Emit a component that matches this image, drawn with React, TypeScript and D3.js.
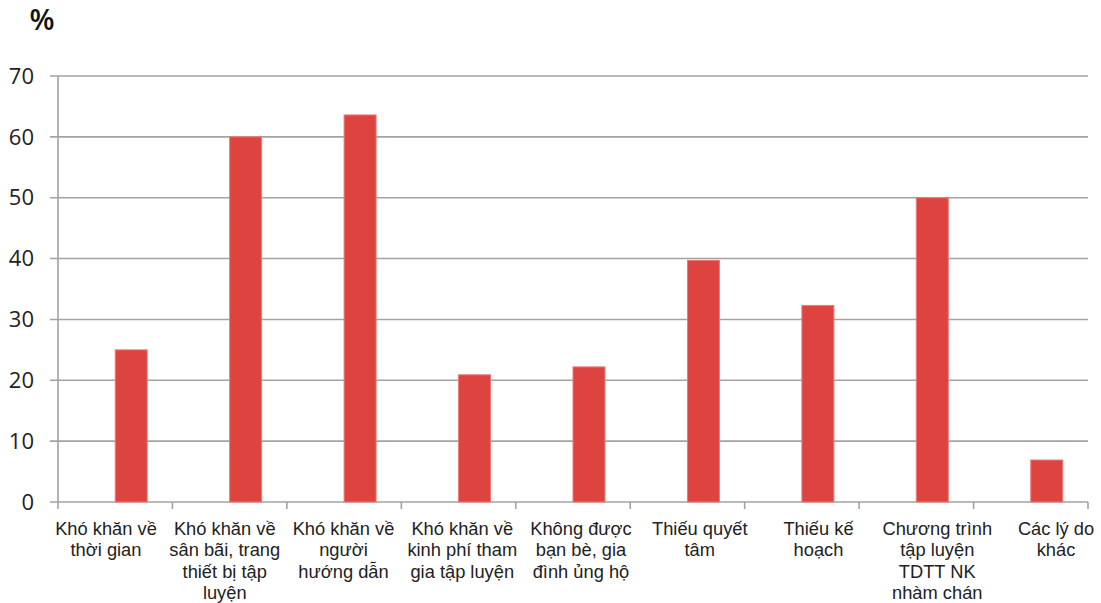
import React from "react";
import * as d3 from "d3";

const categories: string[] = [
  "Khó khăn về\nthời gian",
  "Khó khăn về\nsân bãi, trang\nthiết bị tập\nluyện",
  "Khó khăn về\nngười\nhướng dẫn",
  "Khó khăn về\nkinh phí tham\ngia tập luyện",
  "Không được\nbạn bè, gia\nđình ủng hộ",
  "Thiếu quyết\ntâm",
  "Thiếu kế\nhoạch",
  "Chương trình\ntập luyện\nTDTT NK\nnhàm chán",
  "Các lý do\nkhác",
];
const values: number[] = [25, 60, 63.6, 20.9, 22.2, 39.7, 32.3, 50, 6.9];
const series: string[] = ["empty", "value"];
const yTicks: number[] = [0, 10, 20, 30, 40, 50, 60, 70];

const W = 1101;
const H = 603;
const left = 58;
const right = 1088;
const top = 76;
const bottom = 502;

export default function App() {
  const x0 = d3.scaleBand<string>().domain(categories).range([left, right]).padding(0);
  const x1 = d3
    .scaleBand<string>()
    .domain(series)
    .range([0, x0.bandwidth()])
    .paddingInner(0)
    .paddingOuter(0.79);
  const y = d3.scaleLinear().domain([0, 70]).range([bottom, top]);
  const xLabel = d3.scalePoint<string>().domain(categories).range([106, 1056]);

  const gridColor = "#a3a3a3";
  const labelFont = "'Liberation Sans', Arial, sans-serif";
  const numFont = "'Open Sans', 'DejaVu Sans', sans-serif";

  const boundaries = categories.map((c) => x0(c) as number).concat([right]);

  return (
    <svg
      width={W}
      height={H}
      style={{ position: "absolute", left: 0, top: 0, background: "#fff" }}
    >
      <rect x={0} y={0} width={W} height={H} fill="#fff" />
      <text x={42} y={30} fontFamily={numFont} fontSize={29} fontWeight={600} fill="#111" textAnchor="middle">
        %
      </text>
      {yTicks.map((t) => (
        <g key={t}>
          <line x1={50} x2={right} y1={y(t)} y2={y(t)} stroke={gridColor} strokeWidth={1.6} />
          <text
            x={34}
            y={y(t)}
            dy="0.35em"
            textAnchor="end"
            fontFamily={numFont}
            fontSize={22}
            fill="#222"
          >
            {t}
          </text>
        </g>
      ))}
      <line x1={left} x2={left} y1={top} y2={bottom} stroke={gridColor} strokeWidth={1.6} />
      {boundaries.map((b, i) => (
        <line key={i} x1={b} x2={b} y1={bottom} y2={bottom + 7} stroke={gridColor} strokeWidth={1.6} />
      ))}
      {categories.map((c, i) => (
        <rect
          key={c}
          x={(x0(c) as number) + (x1("value") as number)}
          y={y(values[i])}
          width={x1.bandwidth()}
          height={y(0) - y(values[i])}
          fill="#dd4440"
          stroke="#ec7a76"
          strokeWidth={1}
        />
      ))}
      {categories.map((c) => (
        <text
          key={c}
          x={xLabel(c)}
          y={534}
          textAnchor="middle"
          fontFamily={labelFont}
          fontSize={18.3}
          fill="#222"
        >
          {c.split("\n").map((ln, j) => (
            <tspan key={j} x={xLabel(c)} y={534.5 + j * 21.6}>
              {ln}
            </tspan>
          ))}
        </text>
      ))}
    </svg>
  );
}
